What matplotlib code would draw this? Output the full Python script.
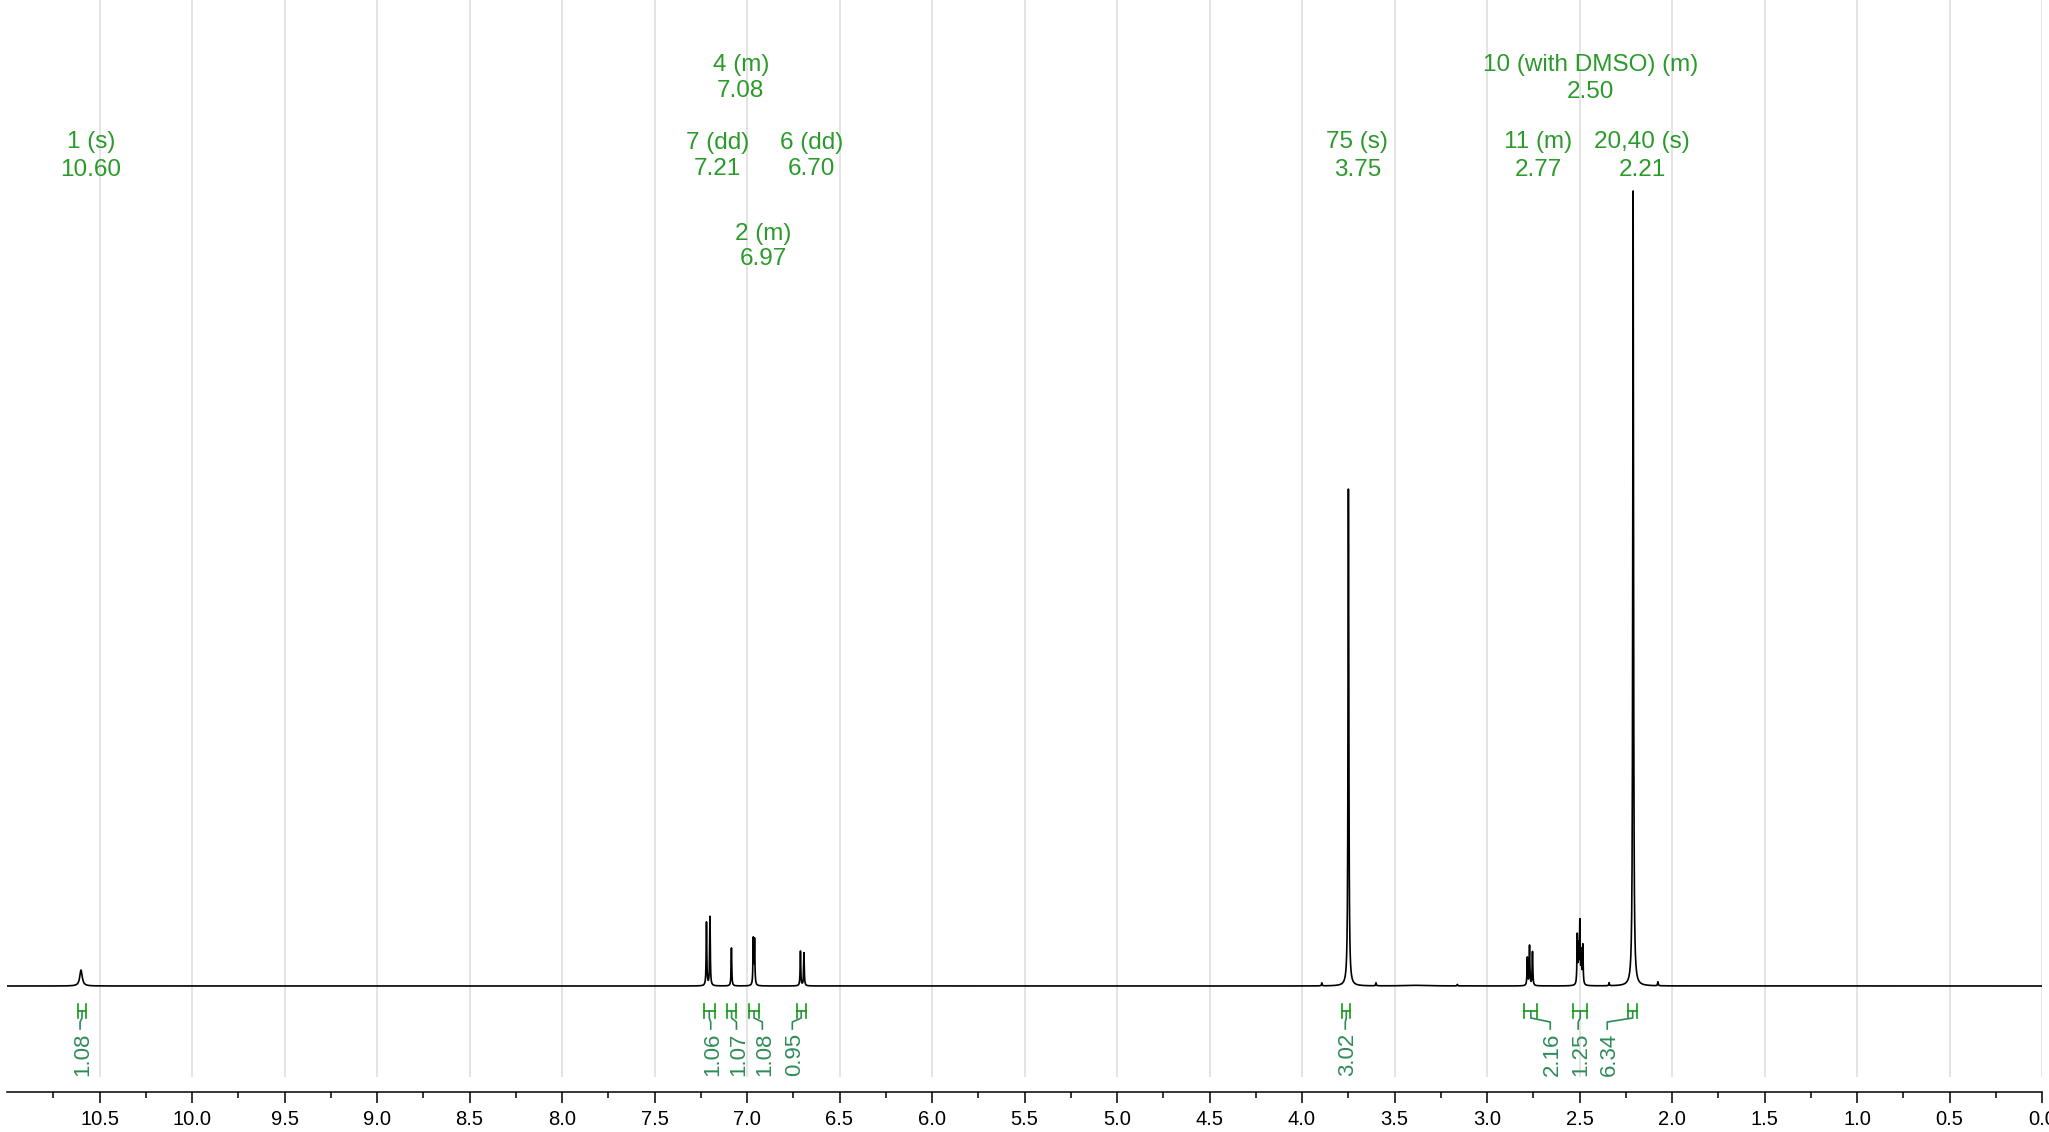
import numpy as np
import matplotlib
matplotlib.use("Agg")
import matplotlib.pyplot as plt
import matplotlib.transforms as mtransforms
from matplotlib.ticker import FixedLocator, FormatStrFormatter

plt.rcParams['font.family'] = ['Liberation Sans', 'DejaVu Sans']

# ---------------- data ----------------
# spectral lines (ppm, relative height with 2.21 = 100, half width ppm)
line_ppm = [10.600, 7.219, 7.200, 7.084, 6.966, 6.959, 6.711, 6.692,
            3.893, 3.749, 3.600, 3.380, 3.160,
            2.782, 2.770, 2.754,
            2.512, 2.505, 2.498, 2.490, 2.482,
            2.340, 2.210, 2.076]
line_height = [2.0, 8.05, 8.68, 4.78, 5.75, 5.65, 4.40, 4.15,
               0.38, 62.9, 0.38, 0.08, 0.19,
               3.50, 5.00, 4.25,
               6.10, 4.50, 7.70, 3.90, 4.90,
               0.38, 100.0, 0.50]
line_hwhm = [0.008, 0.002, 0.002, 0.002, 0.002, 0.002, 0.002, 0.002,
             0.002, 0.0025, 0.002, 0.08, 0.002,
             0.002, 0.002, 0.002,
             0.002, 0.002, 0.002, 0.002, 0.002,
             0.002, 0.0025, 0.002]

# multiplet annotations
mult_names = ["1 (s)", "7 (dd)", "4 (m)", "2 (m)", "6 (dd)", "75 (s)", "11 (m)",
              "10 (with DMSO) (m)", "20,40 (s)"]
mult_shifts = [10.60, 7.21, 7.08, 6.97, 6.70, 3.75, 2.77, 2.50, 2.21]

# integrals
integral_values = [1.08, 1.06, 1.07, 1.08, 0.95, 3.02, 2.16, 1.25, 6.34]
integral_from = [10.616, 7.234, 7.106, 6.989, 6.731, 3.783, 2.798, 2.534, 2.237]
integral_to = [10.573, 7.174, 7.061, 6.935, 6.683, 3.738, 2.728, 2.458, 2.188]

# axis ticks
major_ticks = [0.0, 0.5, 1.0, 1.5, 2.0, 2.5, 3.0, 3.5, 4.0, 4.5, 5.0,
               5.5, 6.0, 6.5, 7.0, 7.5, 8.0, 8.5, 9.0, 9.5, 10.0, 10.5]
minor_ticks = [0.25, 0.75, 1.25, 1.75, 2.25, 2.75, 3.25, 3.75, 4.25, 4.75, 5.25,
               5.75, 6.25, 6.75, 7.25, 7.75, 8.25, 8.75, 9.25, 9.75, 10.25, 10.75]

# ---------------- layout ----------------
W, H = 2049, 1132
DPI = 100
fig = plt.figure(figsize=(W / DPI, H / DPI), dpi=DPI)
ax_left, ax_right = 7, 2042
ax_bottom_px, baseline_px = 1092, 986
ax = fig.add_axes([ax_left / W, (H - ax_bottom_px) / H, (ax_right - ax_left) / W, ax_bottom_px / H])

px_per_unit = 7.95
ax.set_xlim(11.0, 0.0)
ax.set_ylim(-(ax_bottom_px - baseline_px) / px_per_unit, baseline_px / px_per_unit)

# transform: x in ppm, y in image pixels measured from the top
pix_y = mtransforms.Affine2D().scale(1, -1).translate(0, H)
blend = mtransforms.blended_transform_factory(ax.transData, pix_y)

# label placements (ppm of text centre, baselines in px)
mult_label_x = [10.546, 7.160, 7.034, 6.911, 6.652, 3.701, 2.723, 2.442, 2.161]
mult_label_base = [(148, 176), (149, 175), (71, 97), (240, 265), (149, 175),
                   (148, 176), (148, 176), (71, 98), (148, 176)]
integral_label_x = [10.605, 7.196, 7.057, 6.917, 6.755, 3.766, 2.658, 2.507, 2.350]

# ---------------- spectrum ----------------
x = np.arange(0.0, 11.0, 0.0004)
y = np.zeros_like(x)
for p, h, w in zip(line_ppm, line_height, line_hwhm):
    y += h * w ** 2 / ((x - p) ** 2 + w ** 2)

# grid lines
ax.vlines(major_ticks, 0, 1077, transform=blend, colors='#e2e2e2', linewidth=1.3, zorder=0)

ax.plot(x, y, color='black', linewidth=1.2, zorder=3)

# ---------------- axes styling ----------------
for s in ['left', 'top', 'right']:
    ax.spines[s].set_visible(False)
ax.spines['bottom'].set_linewidth(1.1)
ax.yaxis.set_visible(False)
ax.xaxis.set_major_locator(FixedLocator(major_ticks))
ax.xaxis.set_minor_locator(FixedLocator(minor_ticks))
ax.xaxis.set_major_formatter(FormatStrFormatter('%.1f'))
ax.tick_params(axis='x', which='major', length=8, width=1.1, direction='out',
               labelsize=14.5, pad=5, colors='black')
ax.tick_params(axis='x', which='minor', length=4.5, width=1.1, direction='out')
ax.patch.set_alpha(0)

# ---------------- multiplet labels ----------------
top_color = '#2a9a2a'
for name, shift, lx, (b1, b2) in zip(mult_names, mult_shifts, mult_label_x, mult_label_base):
    ax.text(lx, b1, name, transform=blend, ha='center', va='baseline',
            fontsize=17.5, color=top_color)
    ax.text(lx, b2, f"{shift:.2f}", transform=blend, ha='center', va='baseline',
            fontsize=17.5, color=top_color)

# ---------------- integrals ----------------
br_color = '#139a13'
lab_color = '#2e8b57'
for val, a, b, lx in zip(integral_values, integral_from, integral_to, integral_label_x):
    mid = (a + b) / 2
    ax.plot([a, a], [1004, 1018], transform=blend, color=br_color, lw=1.2, clip_on=False)
    ax.plot([b, b], [1004, 1018], transform=blend, color=br_color, lw=1.2, clip_on=False)
    ax.plot([a, b], [1011, 1011], transform=blend, color=br_color, lw=1.2, clip_on=False)
    ax.plot([mid, mid, lx, lx], [1011, 1018, 1022, 1029], transform=blend,
            color=lab_color, lw=1.2, clip_on=False)
    ax.annotate(f"{val:.2f}", xy=(lx, 1076), xycoords=blend,
                xytext=(8, 0), textcoords='offset pixels',
                rotation=90, rotation_mode='anchor', ha='left', va='baseline',
                fontsize=16, color=lab_color)

fig.savefig("out.png", dpi=DPI)
